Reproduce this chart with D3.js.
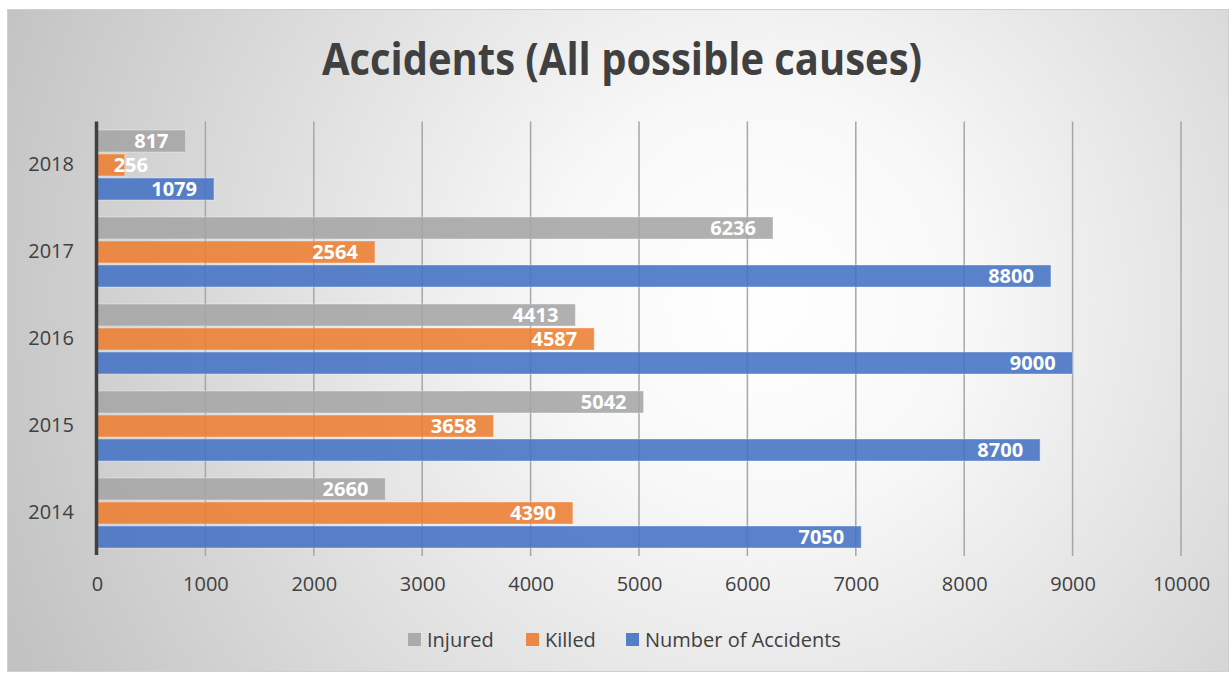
<!DOCTYPE html>
<html>
<head>
<meta charset="utf-8">
<script src="https://cdn.jsdelivr.net/npm/d3@7"></script>
<style>
  html, body { margin: 0; padding: 0; background: #ffffff; }
  svg { display: block; }
  text { font-family: "Open Sans", "DejaVu Sans", sans-serif; }
</style>
</head>
<body>
<svg id="chart" width="1231" height="673"></svg>
<script>
// Yearly accident figures
const years = ["2018", "2017", "2016", "2015", "2014"];
const seriesNames = ["Injured", "Killed", "Number of Accidents"];
const injured   = [817, 6236, 4413, 5042, 2660];
const killed    = [256, 2564, 4587, 3658, 4390];
const accidents = [1079, 8800, 9000, 8700, 7050];
const xTicks = [0, 1000, 2000, 3000, 4000, 5000, 6000, 7000, 8000, 9000, 10000];
const colors = ["#a5a5a5", "#ed7d31", "#4472c4"];
const title = "Accidents (All possible causes)";

const seriesValues = [injured, killed, accidents];

const svg = d3.select("#chart");
const W = 1231, H = 673;

// Frame with soft radial shading
const defs = svg.append("defs");
const grad = defs.append("radialGradient")
  .attr("id", "bg")
  .attr("gradientUnits", "userSpaceOnUse")
  .attr("cx", 760).attr("cy", 300).attr("r", 820);
grad.append("stop").attr("offset", "0%").attr("stop-color", "#ffffff");
grad.append("stop").attr("offset", "25%").attr("stop-color", "#f8f8f8");
grad.append("stop").attr("offset", "100%").attr("stop-color", "#c2c2c2");

svg.append("rect")
  .attr("x", 7.5).attr("y", 9.5)
  .attr("width", 1221).attr("height", 662)
  .attr("fill", "url(#bg)")
  .attr("stroke", "#d0d0d0").attr("stroke-width", 1);

// Title
svg.append("text")
  .attr("x", 622).attr("y", 75)
  .attr("text-anchor", "middle")
  .attr("font-size", 44)
  .attr("font-weight", 700)
  .attr("fill", "#404040")
  .attr("textLength", 600)
  .attr("lengthAdjust", "spacingAndGlyphs")
  .text(title);

// Scales
const x = d3.scaleLinear().domain([0, 10000]).range([97, 1181]);
const y = d3.scaleBand().domain(years).range([121.5, 556.5]).paddingInner(0).paddingOuter(0);
const groupH = 70;
const barH = 22;
const barGap = 2;

// Vertical gridlines
svg.append("g")
  .selectAll("line")
  .data(xTicks.slice(1))
  .join("line")
  .attr("x1", d => x(d)).attr("x2", d => x(d))
  .attr("y1", 121.5).attr("y2", 556)
  .attr("stroke", "#a6a6a6")
  .attr("stroke-width", 1.5);

// Bars
const rows = [];
years.forEach((yr, i) => {
  seriesValues.forEach((vals, s) => {
    rows.push({ year: yr, s, value: vals[i] });
  });
});

const top0 = d => y(d.year) + (y.bandwidth() - groupH) / 2 + d.s * (barH + barGap);

svg.append("g")
  .selectAll("rect")
  .data(rows)
  .join("rect")
  .attr("x", x(0))
  .attr("y", d => top0(d))
  .attr("width", d => x(d.value) - x(0))
  .attr("height", barH)
  .attr("fill", d => colors[d.s])
  .attr("fill-opacity", 0.88)
  .attr("stroke", "#ffffff")
  .attr("stroke-opacity", 0.35)
  .attr("stroke-width", 1);

// Value labels inside bar ends
svg.append("g")
  .selectAll("text")
  .data(rows)
  .join("text")
  .attr("x", d => Math.max(x(d.value) - 17, x(0) + 51))
  .attr("y", d => top0(d) + barH / 2)
  .attr("dy", "0.36em")
  .attr("text-anchor", "end")
  .attr("font-size", 20)
  .attr("font-weight", 700)
  .attr("fill", "#ffffff")
  .text(d => d.value);

// Vertical axis line
svg.append("line")
  .attr("x1", 96.5).attr("x2", 96.5)
  .attr("y1", 121.5).attr("y2", 555)
  .attr("stroke", "#404040")
  .attr("stroke-width", 3.5);

// Category labels
const yAxis = d3.axisLeft(y).tickSize(0).tickPadding(0);
const gy = svg.append("g").attr("transform", "translate(74,0)").call(yAxis);
gy.select(".domain").remove();
gy.selectAll("text")
  .attr("font-size", 20)
  .attr("fill", "#404040")
  .attr("font-family", "\"Open Sans\", sans-serif");

// Value axis labels
const xAxis = d3.axisBottom(x).tickValues(xTicks).tickSize(0).tickPadding(0).tickFormat(d3.format("d"));
const gx = svg.append("g").attr("transform", "translate(0,577)").call(xAxis);
gx.select(".domain").remove();
gx.selectAll("text")
  .attr("font-size", 20)
  .attr("fill", "#404040")
  .attr("font-family", "\"Open Sans\", sans-serif");

// Legend
const legendX = [408, 526, 626];
const legend = svg.append("g");
seriesNames.forEach((name, i) => {
  const g = legend.append("g").attr("transform", `translate(${legendX[i]},0)`);
  g.append("rect")
    .attr("x", 0).attr("y", 633)
    .attr("width", 13).attr("height", 13)
    .attr("fill", colors[i]).attr("fill-opacity", 0.9);
  g.append("text")
    .attr("x", 19).attr("y", 639.5)
    .attr("dy", "0.36em")
    .attr("font-size", 20)
    .attr("fill", "#404040")
    .text(name);
});
</script>
</body>
</html>
